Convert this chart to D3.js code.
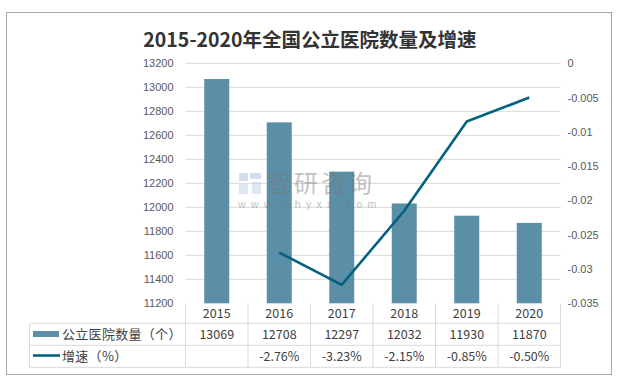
<!DOCTYPE html>
<html><head><meta charset="utf-8">
<script src="https://cdn.jsdelivr.net/npm/d3@7"></script>
<style>body{margin:0;background:#fff}svg{display:block;font-family:"Microsoft YaHei","Noto Sans CJK SC",sans-serif}</style>
</head><body>
<script>
const years = ["2015","2016","2017","2018","2019","2020"];
const hospitals = [13069, 12708, 12297, 12032, 11930, 11870];
const growth = [null, -0.0276, -0.0323, -0.0215, -0.0085, -0.0050];
const growthLabels = ["", "-2.76%", "-3.23%", "-2.15%", "-0.85%", "-0.50%"];
const leftTicks = [11200,11400,11600,11800,12000,12200,12400,12600,12800,13000,13200];
const rightTicks = [0,-0.005,-0.01,-0.015,-0.02,-0.025,-0.03,-0.035];
const title = "2015-2020年全国公立医院数量及增速";
const seriesNames = ["公立医院数量（个）", "增速（%）"];

const W = 617, H = 379;
const svg = d3.select("body").append("svg").attr("width", W).attr("height", H);
svg.append("rect").attr("x",6.5).attr("y",12.5).attr("width",605).attr("height",362)
  .attr("fill","#fff").attr("stroke","#a6a6a6").attr("stroke-width",1);

svg.append("text").attr("x",310).attr("y",47).attr("text-anchor","middle")
  .attr("font-size",19.5).attr("font-weight","bold").attr("fill","#333")
  .attr("font-family","'Noto Sans CJK SC',sans-serif").text(title);

const x0 = 185.5, x1 = 560.5, yTop = 63.3, yBot = 303.3;
const x = d3.scaleBand().domain(years).range([x0, x1]).paddingInner(0).paddingOuter(0);
const yL = d3.scaleLinear().domain([11200, 13200]).range([yBot, yTop]);
const yR = d3.scaleLinear().domain([-0.035, 0]).range([yBot, yTop]);

// gridlines
svg.append("g").selectAll("line").data(leftTicks.slice(1)).join("line")
  .attr("x1", x0).attr("x2", x1).attr("y1", d=>yL(d)).attr("y2", d=>yL(d))
  .attr("stroke","#d9d9d9").attr("stroke-width",1);

// left axis
const gl = svg.append("g").attr("transform",`translate(${x0},0)`)
  .call(d3.axisLeft(yL).tickValues(leftTicks).tickSize(0).tickPadding(12).tickFormat(d3.format("d")));
gl.select(".domain").remove();
gl.selectAll("text").attr("font-size",11).attr("fill","#595959").attr("font-family","Arial, 'Liberation Sans', sans-serif");

// right axis
const gr = svg.append("g").attr("transform",`translate(${x1},0)`)
  .call(d3.axisRight(yR).tickValues(rightTicks).tickSize(0).tickPadding(7).tickFormat(d=>d===0?"0":String(+d.toFixed(3))));
gr.select(".domain").remove();
gr.selectAll("text").attr("font-size",11).attr("fill","#595959").attr("font-family","Arial, 'Liberation Sans', sans-serif");

// bars
const bw = x.bandwidth()*0.4;
svg.append("g").selectAll("rect").data(hospitals).join("rect")
  .attr("x",(d,i)=>x(years[i])+x.bandwidth()/2-bw/2).attr("width",bw)
  .attr("y",d=>yL(d)).attr("height",d=>yBot-yL(d)).attr("fill","#5b8fa7");

// watermark
const wm = svg.append("g").attr("opacity",0.45);
wm.append("rect").attr("x",239).attr("y",173).attr("width",9).attr("height",8).attr("fill","#9fb6d6");
wm.append("rect").attr("x",250).attr("y",173).attr("width",11).attr("height",6).attr("fill","#9fb6d6");
wm.append("rect").attr("x",239).attr("y",184).attr("width",9).attr("height",10).attr("fill","#b9cbe3");
wm.append("rect").attr("x",252).attr("y",182).attr("width",9).attr("height",12).attr("fill","#b9cbe3");
wm.append("text").attr("x",267).attr("y",192).attr("font-size",24).attr("fill","#777")
  .attr("letter-spacing",3).attr("font-family","'Noto Sans CJK SC',sans-serif").text("智研咨询");
wm.append("text").attr("x",238).attr("y",208).attr("font-size",10.5).attr("fill","#777")
  .attr("letter-spacing",5.3).attr("font-family","Arial, sans-serif").text("www.chyxx.com");

// line
const line = d3.line().defined(d=>d.v!==null).x(d=>x(d.y)+x.bandwidth()/2).y(d=>yR(d.v));
svg.append("path").datum(years.map((y,i)=>({y, v:growth[i]})))
  .attr("d",line).attr("fill","none").attr("stroke","#04617f").attr("stroke-width",2.6)
  .attr("stroke-linejoin","round");

// table
const tg = svg.append("g").attr("stroke","#d9d9d9").attr("stroke-width",1);
const rowY = [303.3, 323.3, 345.3, 367.3];
const colX = years.map(y=>x(y)).concat([x1]);
colX.forEach(cx=> tg.append("line").attr("x1",cx).attr("x2",cx).attr("y1",rowY[0]).attr("y2",rowY[3]));
tg.append("line").attr("x1",29.5).attr("x2",29.5).attr("y1",rowY[1]).attr("y2",rowY[3]);
[1,2,3].forEach(r=> tg.append("line").attr("x1",29.5).attr("x2",x1).attr("y1",rowY[r]).attr("y2",rowY[r]));

const tt = svg.append("g").attr("font-size",12.5).attr("fill","#404040").attr("text-anchor","middle")
  .attr("font-family","'Noto Sans CJK SC',sans-serif");
years.forEach((y,i)=>{
  const cx = x(y)+x.bandwidth()/2;
  tt.append("text").attr("x",cx).attr("y",317.5).text(y);
  tt.append("text").attr("x",cx).attr("y",338.5).text(hospitals[i]);
  tt.append("text").attr("x",cx).attr("y",360.5).text(growthLabels[i]);
});
svg.append("rect").attr("x",33).attr("y",331).attr("width",26).attr("height",6).attr("fill","#5b8fa7");
svg.append("line").attr("x1",33).attr("x2",60).attr("y1",355.5).attr("y2",355.5).attr("stroke","#04617f").attr("stroke-width",2.6);
svg.append("text").attr("x",62).attr("y",339).attr("font-size",13).attr("fill","#404040").attr("letter-spacing",0.3)
  .attr("font-family","'Noto Sans CJK SC',sans-serif").text(seriesNames[0]);
svg.append("text").attr("x",62).attr("y",361).attr("font-size",13).attr("fill","#404040").attr("letter-spacing",0.3)
  .attr("font-family","'Noto Sans CJK SC',sans-serif").text(seriesNames[1]);
</script>
</body></html>
